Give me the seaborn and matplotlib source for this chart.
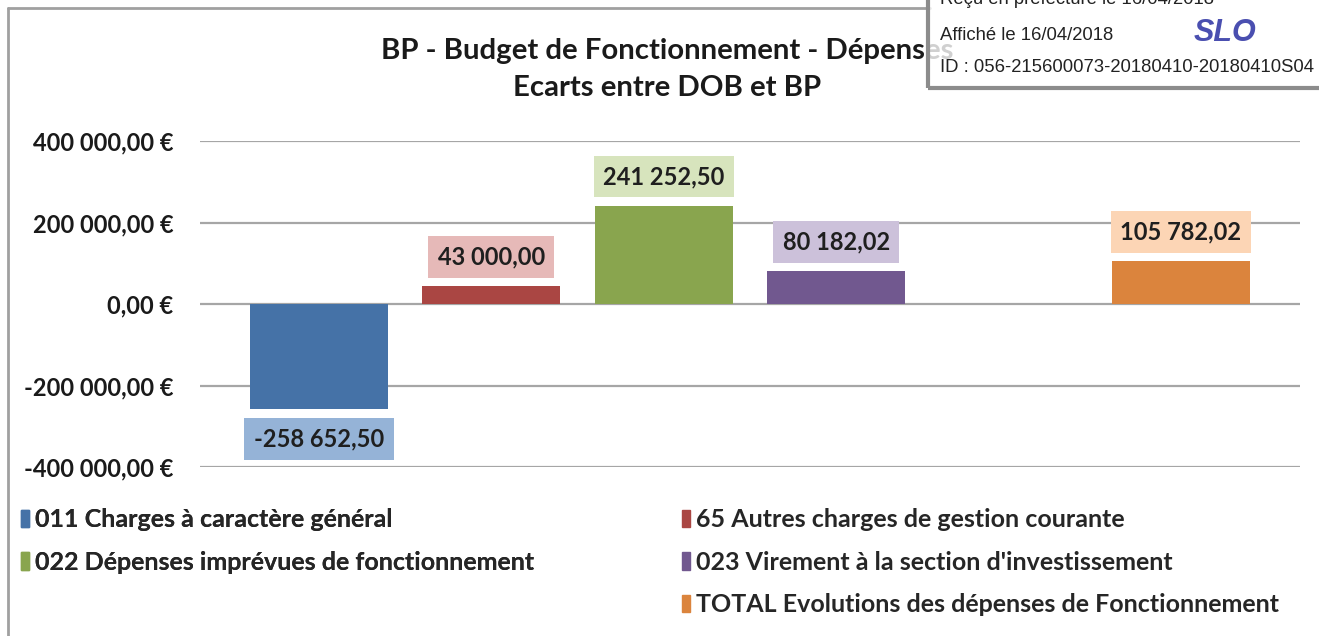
import matplotlib
matplotlib.use("Agg")
import matplotlib.pyplot as plt
import matplotlib.patches as mpatches
from matplotlib.lines import Line2D
from matplotlib.ticker import FuncFormatter
import pandas as pd
import seaborn as sns

# data
CATEGORIES = [
    "011 Charges à caractère général",
    "65 Autres charges de gestion courante",
    "022 Dépenses imprévues de fonctionnement",
    "023 Virement à la section d'investissement",
    "TOTAL Evolutions des dépenses de Fonctionnement",
]
VALUES = [-258652.50, 43000.00, 241252.50, 80182.02, 105782.02]
BAR_COLORS = ["#4572A7", "#AA4643", "#89A54E", "#71588F", "#DB843D"]
LABEL_COLORS = ["#95B3D7", "#E6B9B8", "#D7E4BD", "#CCC1DA", "#FCD5B5"]
# the Excel chart leaves one empty slot before the total
ORDER = CATEGORIES[:4] + [" "] + CATEGORIES[4:]

FONT = ["Lato", "DejaVu Sans"]


def fr_number(v):
    return f"{v:,.2f}".replace(",", " ").replace(".", ",")


def plot_chart(output_path):
    W, H = 1319, 636
    sns.set_theme(style="white")
    plt.rcParams["font.family"] = FONT

    df = pd.DataFrame({"poste": CATEGORIES, "ecart": VALUES})
    palette = dict(zip(CATEGORIES, BAR_COLORS))

    fig = plt.figure(figsize=(W / 100, H / 100), dpi=100)
    ax = fig.add_axes([200 / W, 1 - 467 / H, 1100 / W, 326 / H])

    sns.barplot(data=df, x="poste", y="ecart", hue="poste", order=ORDER,
                palette=palette, width=0.8, legend=False, saturation=1,
                linewidth=0, ax=ax, zorder=3)

    ax.set_ylim(-400000, 400000)
    ax.set_xlim(-0.69, 5.69)
    ax.set_yticks([-400000, -200000, 0, 200000, 400000])
    ax.yaxis.set_major_formatter(FuncFormatter(lambda v, _: fr_number(v) + " €"))
    ax.set_xticks([])
    ax.set_xlabel("")
    ax.set_ylabel("")
    ax.grid(axis="y", color="#a6a6a6", linewidth=1.6, zorder=0)
    ax.tick_params(axis="y", length=0, pad=19, labelsize=17, labelcolor="#1a1a1a")
    for lab in ax.get_yticklabels():
        lab.set_fontweight("bold")
    for s in ax.spines.values():
        s.set_visible(False)

    # data labels in light boxes
    for cat, val, lc in zip(CATEGORIES, VALUES, LABEL_COLORS):
        xpos = ORDER.index(cat)
        off = 21 if val > 0 else -21
        ax.annotate(fr_number(val), xy=(xpos, val), xytext=(0, off),
                    textcoords="offset points", ha="center", va="center",
                    fontsize=17, fontweight="bold", color="#1f1f1f",
                    bbox=dict(boxstyle="square,pad=0.4", fc=lc, ec="none"),
                    zorder=5)

    fig.text(667 / W, 1 - 51 / H, "BP - Budget de Fonctionnement - Dépenses",
             ha="center", va="center", fontsize=21.2, fontweight="bold", color="#1a1a1a")
    fig.text(667 / W, 1 - 88 / H, "Ecarts entre DOB et BP",
             ha="center", va="center", fontsize=21.2, fontweight="bold", color="#1a1a1a")

    # legend: two columns, 2 entries left and 3 right
    handles = [mpatches.Patch(color=c) for c in BAR_COLORS]
    leg_kw = dict(frameon=False, handlelength=0.33, handleheight=0.7,
                  handletextpad=0.22, labelspacing=0.78, borderaxespad=0,
                  borderpad=0, prop={"weight": "bold", "size": 18})
    leg1 = fig.legend([handles[0], handles[2]], [CATEGORIES[0], CATEGORIES[2]],
                      loc="upper left", bbox_to_anchor=(21 / W, 1 - 508 / H), **leg_kw)
    fig.legend([handles[1], handles[3], handles[4]],
               [CATEGORIES[1], CATEGORIES[3], CATEGORIES[4]],
               loc="upper left", bbox_to_anchor=(682 / W, 1 - 508 / H), **leg_kw)
    fig.add_artist(leg1)

    # chart area border (left and top)
    fig.add_artist(Line2D([8 / W, 8 / W], [0, 1 - 8 / H], color="#a0a0a0",
                          linewidth=2, transform=fig.transFigure))
    fig.add_artist(Line2D([8 / W, 930 / W], [1 - 8 / H, 1 - 8 / H], color="#a0a0a0",
                          linewidth=2, transform=fig.transFigure))

    # reception stamp overlay in the top right corner
    fig.add_artist(mpatches.Rectangle((928 / W, 1 - 88 / H), 400 / W, 100 / H,
                                      transform=fig.transFigure, facecolor="white",
                                      alpha=0.8, edgecolor="none", zorder=10))
    fig.add_artist(mpatches.Rectangle((928 / W, 1 - 88 / H), 400 / W, 100 / H,
                                      transform=fig.transFigure, facecolor="none",
                                      edgecolor="#8c8c8c", linewidth=3, zorder=11))
    stamp_font = ["Liberation Sans", "DejaVu Sans"]
    fig.text(940 / W, 1 + 1 / H, "Reçu en préfecture le 16/04/2018", ha="left",
             va="center", fontsize=13.3, color="#222222", family=stamp_font, zorder=12)
    fig.text(940 / W, 1 - 35 / H, "Affiché le 16/04/2018", ha="left",
             va="center", fontsize=13.3, color="#222222", family=stamp_font, zorder=12)
    fig.text(940 / W, 1 - 67 / H, "ID : 056-215600073-20180410-20180410S04", ha="left",
             va="center", fontsize=13.3, color="#222222", family=stamp_font, zorder=12)
    fig.text(1194 / W, 1 - 33 / H, "SLO", ha="left", va="center", fontsize=22,
             fontweight="bold", fontstyle="italic", color="#4a4fb0",
             family=stamp_font, zorder=12)

    plt.savefig(output_path, dpi=100)
    plt.close()


plot_chart("out.png")
